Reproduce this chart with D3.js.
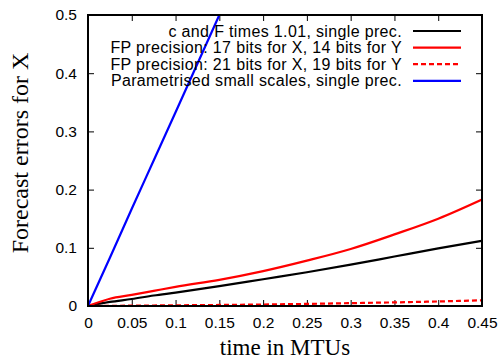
<!DOCTYPE html>
<html>
<head>
<meta charset="utf-8">
<script src="https://cdnjs.cloudflare.com/ajax/libs/d3/7.8.5/d3.min.js"></script>
<style>
  body { margin: 0; background: #fff; }
  svg { display: block; }
</style>
</head>
<body>
<div class="chart"></div>
<script>
// time axis (MTUs)
const times = [0, 0.025, 0.05, 0.075, 0.1, 0.15, 0.2, 0.25, 0.3, 0.35, 0.4, 0.45];

// forecast errors for X, one array per experiment
const cF101 = [0, 0.007, 0.012, 0.018, 0.023, 0.034, 0.046, 0.058, 0.071, 0.085, 0.099, 0.112];
const fp17_14 = [0, 0.0125, 0.019, 0.026, 0.033, 0.045, 0.060, 0.078, 0.098, 0.123, 0.150, 0.183];
const fp21_19 = [0, 0.0003, 0.0006, 0.0009, 0.0012, 0.0018, 0.0026, 0.0036, 0.0049, 0.0062, 0.0078, 0.0098];
const smallScales = [0, 0.083, 0.167, 0.25, 0.333, 0.5, 0.667, 0.833, 1.0, 1.17, 1.33, 1.5];

const seriesNames = [
  "c and F times 1.01, single prec.",
  "FP precision: 17 bits for X, 14 bits for Y",
  "FP precision: 21 bits for X, 19 bits for Y",
  "Parametrised small scales, single prec."
];
const seriesColors = ["#000000", "#ff0000", "#ff0000", "#0000ff"];
const seriesDash = [null, null, "5,3", null];
const seriesValues = [cF101, fp17_14, fp21_19, smallScales];

const xTicks = [0, 0.05, 0.1, 0.15, 0.2, 0.25, 0.3, 0.35, 0.4, 0.45];
const yTicks = [0, 0.1, 0.2, 0.3, 0.4, 0.5];

const width = 503, height = 359;
const m = { left: 88, right: 482, top: 15, bottom: 306 };

const svg = d3.select(".chart").append("svg")
  .attr("width", width)
  .attr("height", height);

const x = d3.scaleLinear().domain([0, 0.45]).range([m.left, m.right]);
const y = d3.scaleLinear().domain([0, 0.5]).range([m.bottom, m.top]);

svg.append("clipPath").attr("id", "plotclip")
  .append("rect")
  .attr("x", m.left).attr("y", m.top)
  .attr("width", m.right - m.left).attr("height", m.bottom - m.top);

// axes with inward ticks, mirrored gnuplot style
const tickFmt = d => d === 0 ? "0" : d3.format("")(d);
const axisFont = "'Liberation Sans', Arial, sans-serif";

function styleAxis(g) {
  g.select(".domain").remove();
  g.selectAll(".tick line").attr("stroke", "#000").attr("stroke-width", 1);
  g.selectAll(".tick text")
    .attr("fill", "#000")
    .style("font-family", axisFont)
    .style("font-size", "15.5px");
}

svg.append("g")
  .attr("transform", "translate(0," + m.bottom + ")")
  .call(d3.axisBottom(x).tickValues(xTicks).tickFormat(tickFmt).tickSizeInner(-6).tickSizeOuter(0).tickPadding(11))
  .call(styleAxis);

svg.append("g")
  .attr("transform", "translate(0," + m.top + ")")
  .call(d3.axisTop(x).tickValues(xTicks).tickFormat("").tickSizeInner(-6).tickSizeOuter(0))
  .call(styleAxis);

svg.append("g")
  .attr("transform", "translate(" + m.left + ",0)")
  .call(d3.axisLeft(y).tickValues(yTicks).tickFormat(tickFmt).tickSizeInner(-6).tickSizeOuter(0).tickPadding(11))
  .call(styleAxis);

svg.append("g")
  .attr("transform", "translate(" + m.right + ",0)")
  .call(d3.axisRight(y).tickValues(yTicks).tickFormat("").tickSizeInner(-6).tickSizeOuter(0))
  .call(styleAxis);

// curves
const line = d3.line()
  .x((d, i) => x(times[i]))
  .y(d => y(d))
  .curve(d3.curveMonotoneX);

const plot = svg.append("g").attr("clip-path", "url(#plotclip)");
seriesValues.forEach((vals, k) => {
  plot.append("path")
    .datum(vals)
    .attr("fill", "none")
    .attr("stroke", seriesColors[k])
    .attr("stroke-width", 2.2)
    .attr("stroke-dasharray", seriesDash[k])
    .attr("d", line);
});

// border
svg.append("rect")
  .attr("x", m.left).attr("y", m.top)
  .attr("width", m.right - m.left).attr("height", m.bottom - m.top)
  .attr("fill", "none")
  .attr("stroke", "#000")
  .attr("stroke-width", 2);

// legend
const legend = svg.append("g");
seriesNames.forEach((name, k) => {
  const ly = 31 + k * 16.6;
  legend.append("text")
    .attr("x", 402)
    .attr("y", ly)
    .attr("dy", "0.35em")
    .attr("text-anchor", "end")
    .style("font-family", axisFont)
    .style("font-size", "16px")
    .style("letter-spacing", "0.35px")
    .text(name);
  legend.append("line")
    .attr("x1", 413).attr("x2", 461)
    .attr("y1", ly).attr("y2", ly)
    .attr("stroke", seriesColors[k])
    .attr("stroke-width", 2.2)
    .attr("stroke-dasharray", seriesDash[k]);
});

// axis titles
const titleFont = "'Liberation Serif', 'Times New Roman', serif";
svg.append("text")
  .attr("x", (m.left + m.right) / 2)
  .attr("y", 355)
  .attr("text-anchor", "middle")
  .style("font-family", titleFont)
  .style("font-size", "23px")
  .text("time in MTUs");

svg.append("text")
  .attr("transform", "translate(28,153) rotate(-90)")
  .attr("text-anchor", "middle")
  .style("font-family", titleFont)
  .style("font-size", "24px")
  .text("Forecast errors for X");
</script>
</body>
</html>
